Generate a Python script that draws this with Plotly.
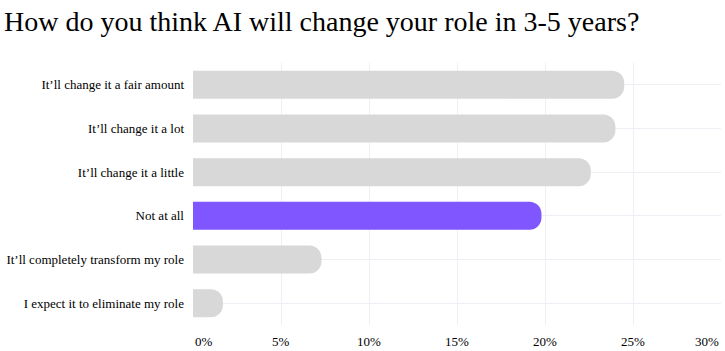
import plotly.graph_objects as go

categories = [
    "It\u2019ll change it a fair amount",
    "It\u2019ll change it a lot",
    "It\u2019ll change it a little",
    "Not at all",
    "It\u2019ll completely transform my role",
    "I expect it to eliminate my role",
]
values = [24.5, 24.0, 22.6, 19.8, 7.3, 1.7]
highlight = "Not at all"
tick_vals = [0, 5, 10, 15, 20, 25, 30]
tick_labels = ["0%", "5%", "10%", "15%", "20%", "25%", "30%"]

GRAY = "#D8D8D8"
PURPLE = "#7F56FF"
GRID = "#EEEEF4"
FONT = "Liberation Serif, Times New Roman, serif"

colors = [PURPLE if c == highlight else GRAY for c in categories]

fig = go.Figure(
    go.Bar(
        x=values,
        y=categories,
        orientation="h",
        marker=dict(color=colors, cornerradius=12, line=dict(width=0)),
        hoverinfo="x+y",
    )
)

anns = []
for v, t in zip(tick_vals, tick_labels):
    anchor = "center"
    if v == tick_vals[0]:
        anchor = "left"
    elif v == tick_vals[-1]:
        anchor = "right"
    anns.append(
        dict(
            x=v, y=0, xref="x", yref="paper", text=t, showarrow=False,
            xanchor=anchor, yanchor="top", yshift=-7,
            font=dict(family=FONT, size=13, color="#000"),
        )
    )

fig.update_layout(
    width=725,
    height=351,
    margin=dict(l=193, r=4, t=63, b=26),
    paper_bgcolor="white",
    plot_bgcolor="white",
    bargap=0.36,
    font=dict(family=FONT, size=13, color="#000"),
    title=dict(
        text="How do you think AI will change your role in 3-5 years?",
        font=dict(family=FONT, size=28, color="#000"),
        x=4 / 725, xanchor="left", xref="container",
        y=1 - 21 / 351, yanchor="middle", yref="container",
    ),
    xaxis=dict(
        range=[0, 30],
        tickvals=tick_vals,
        showticklabels=False,
        showgrid=True,
        gridcolor=GRID,
        gridwidth=1,
        zeroline=False,
        showline=False,
        fixedrange=True,
    ),
    yaxis=dict(
        autorange="reversed",
        showgrid=True,
        gridcolor=GRID,
        gridwidth=1,
        showline=False,
        ticks="",
        ticklabelstandoff=8,
        tickfont=dict(family=FONT, size=13, color="#000"),
        fixedrange=True,
    ),
    annotations=anns,
    showlegend=False,
)

fig.write_html("out.html")
